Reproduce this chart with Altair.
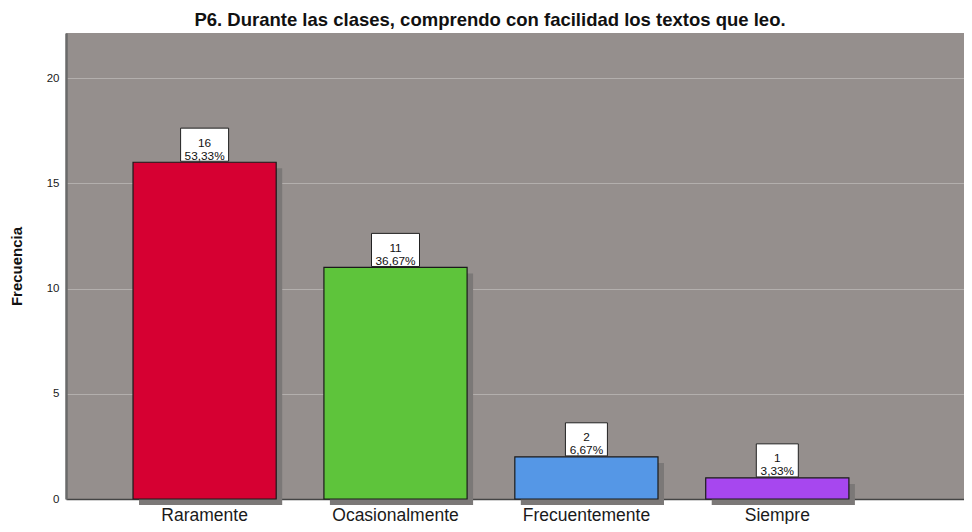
import altair as alt
import pandas as pd

categories = ["Raramente", "Ocasionalmente", "Frecuentemente", "Siempre"]
counts = [16, 11, 2, 1]
percents = ["53,33%", "36,67%", "6,67%", "3,33%"]
colors = ["#d60032", "#5ec43b", "#5597e6", "#a747ef"]
y_ticks = [0, 5, 10, 15, 20]

df = pd.DataFrame({"cat": categories, "count": counts, "pct": percents})

x_enc = alt.X("cat:N", sort=categories,
              scale=alt.Scale(domain=categories, paddingInner=0.25, paddingOuter=0.477, align=0.368),
              axis=alt.Axis(title=None, labelAngle=0, labelFont="Liberation Sans", labelFontSize=17.5,
                            labelColor="#1a1a1a", labelPadding=7, ticks=False, domain=True,
                            domainColor="#444444", domainWidth=1.5, grid=False))
y_scale = alt.Scale(domain=[0, 22.14], nice=False, zero=True)
y_enc = alt.Y("count:Q", scale=y_scale,
              axis=alt.Axis(title="Frecuencia", values=y_ticks, labelFont="Liberation Sans",
                            labelFontSize=11.5, labelColor="#1a1a1a", labelPadding=7, ticks=False,
                            domain=True, domainColor="#6a6a6a", domainWidth=2.5,
                            grid=True, gridColor="#b3afad", gridWidth=1,
                            titleFont="Liberation Sans", titleFontSize=15, titleFontWeight="bold",
                            titleColor="#111111", titlePadding=22))

base = alt.Chart(df)

shadow = base.mark_bar(color="#7b7877", xOffset=6, yOffset=6).encode(x=x_enc, y=y_enc)

bars = base.mark_bar(stroke="#1a1a1a", strokeWidth=1.2).encode(
    x=x_enc, y=y_enc,
    fill=alt.Fill("cat:N", scale=alt.Scale(domain=categories, range=colors), legend=None),
)

box_base = base.transform_calculate(
    top="datum.count + 1.62", mid="datum.count + 0.83",
    label="datum.count + '\\n' + datum.pct", n="length(datum.pct)"
)

box_wide = box_base.transform_filter("datum.n >= 6").mark_bar(
    width=48, fill="white", stroke="#222222", strokeWidth=1, yOffset=-1
).encode(x=x_enc, y=alt.Y("count:Q", scale=y_scale), y2="top:Q")

box_narrow = box_base.transform_filter("datum.n < 6").mark_bar(
    width=42, fill="white", stroke="#222222", strokeWidth=1, yOffset=-1
).encode(x=x_enc, y=alt.Y("count:Q", scale=y_scale), y2="top:Q")

texts = box_base.mark_text(font="Liberation Sans", fontSize=11.8, lineBreak="\n", lineHeight=13,
                           baseline="middle", align="center", color="#111111", yOffset=-2).encode(
    x=x_enc, y=alt.Y("mid:Q", scale=y_scale), text="label:N"
)

chart = alt.layer(shadow, bars, box_wide, box_narrow, texts).properties(
    width=898, height=466,
    title=alt.TitleParams("P6. Durante las clases, comprendo con facilidad los textos que leo.",
                          font="Liberation Sans", fontSize=18.5, fontWeight="bold", color="#111111",
                          anchor="middle", dx=-25, offset=4),
    autosize=alt.AutoSizeParams(type="none"),
    padding={"left": 58, "top": 25, "right": 0, "bottom": 25},
    background="white",
).configure_view(fill="#958f8d", stroke=None)

chart.save("out.html", embed_options={"renderer": "svg", "actions": False})
